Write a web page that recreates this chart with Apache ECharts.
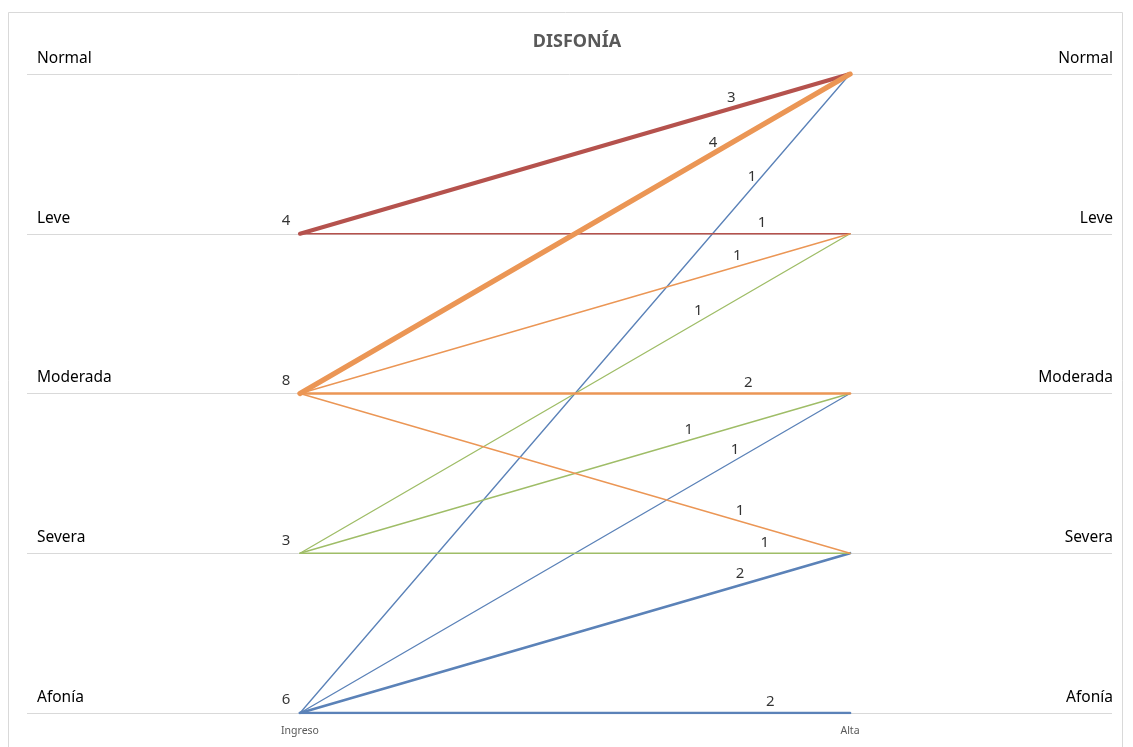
<!DOCTYPE html>
<html>
<head>
<meta charset="utf-8">
<title>Disfonía</title>
<script src="https://cdn.jsdelivr.net/npm/echarts@6/dist/echarts.min.js"></script>
<style>
  html, body { margin: 0; padding: 0; background: #fff; }
  #chart { width: 1133px; height: 747px; }
</style>
</head>
<body>
<div id="chart"></div>
<script>
// Severity levels, bottom (0) to top (4)
const niveles = ['Afonía', 'Severa', 'Moderada', 'Leve', 'Normal'];
const momentos = ['Ingreso', 'Alta'];

// One entry per transition: level at admission, level at discharge, patients
const ingreso = ['Leve', 'Leve', 'Moderada', 'Moderada', 'Moderada', 'Moderada', 'Severa', 'Severa', 'Severa', 'Afonía', 'Afonía', 'Afonía', 'Afonía'];
const alta    = ['Normal', 'Leve', 'Normal', 'Leve', 'Moderada', 'Severa', 'Leve', 'Moderada', 'Severa', 'Normal', 'Moderada', 'Severa', 'Afonía'];
const pacientes = [3, 1, 4, 1, 2, 1, 1, 1, 1, 1, 1, 2, 2];

// Where along each line (0 = Ingreso, 1 = Alta) its count is written
const posEtiqueta = [0.784, 0.84, 0.751, 0.795, 0.815, 0.80, 0.724, 0.707, 0.845, 0.822, 0.791, 0.80, 0.855];

const colores = {
  'Leve': '#b5524d',
  'Moderada': '#eb9655',
  'Severa': '#9fbd67',
  'Afonía': '#5b82b8'
};
const ordenDibujo = ['Afonía', 'Severa', 'Leve', 'Moderada'];
const fuente = '"Noto Sans", "Open Sans", sans-serif';

const lvl = name => niveles.indexOf(name);

const series = [];
ordenDibujo.forEach(grupo => {
  ingreso.forEach((desde, i) => {
    if (desde !== grupo) return;
    series.push({
      type: 'line',
      name: desde + ' → ' + alta[i],
      data: [[0, lvl(desde)], [1, lvl(alta[i])]],
      symbol: 'none',
      silent: true,
      z: 3,
      lineStyle: { color: colores[desde], width: 1.35 * pacientes[i], cap: 'round' }
    });
  });
});

// Count labels along each transition
series.push({
  type: 'scatter',
  symbolSize: 1,
  itemStyle: { color: 'transparent' },
  silent: true,
  z: 5,
  data: ingreso.map((desde, i) => {
    const t = posEtiqueta[i];
    const y0 = lvl(desde), y1 = lvl(alta[i]);
    return { value: [t, y0 + (y1 - y0) * t], n: pacientes[i] };
  }),
  label: {
    show: true,
    position: 'top',
    distance: 3,
    formatter: p => String(p.data.n),
    color: '#000',
    fontSize: 15,
    fontFamily: fuente
  }
});

// Totals at admission for each level
const totales = niveles.map(n => ingreso.reduce((s, d, i) => s + (d === n ? pacientes[i] : 0), 0));
series.push({
  type: 'scatter',
  symbolSize: 1,
  itemStyle: { color: 'transparent' },
  silent: true,
  z: 5,
  data: niveles.map((n, k) => ({ value: [0, k], n: totales[k] })).filter(d => d.n > 0),
  label: {
    show: true,
    position: 'top',
    distance: 5,
    offset: [-14, 0],
    formatter: p => String(p.data.n),
    color: '#000',
    fontSize: 15,
    fontFamily: fuente
  }
});

const chart = echarts.init(document.getElementById('chart'), null, { renderer: 'canvas' });

const yLabelBase = {
  inside: true,
  fontSize: 15.5,
  fontFamily: fuente,
  color: '#000',
  verticalAlign: 'bottom',
  lineHeight: 17,
  padding: [0, 0, 7, 0],
  showMinLabel: true,
  showMaxLabel: true,
  formatter: v => niveles[v] || ''
};

chart.setOption({
  animation: false,
  backgroundColor: '#fff',
  title: {
    text: 'DISFONÍA',
    left: 572,
    top: 28,
    textAlign: 'center',
    textStyle: { fontFamily: fuente, fontWeight: 'bold', fontSize: 18, color: '#595959' }
  },
  graphic: [{
    type: 'rect',
    shape: { x: 8.5, y: 12.5, width: 1114, height: 760 },
    style: { fill: 'none', stroke: '#d9d9d9', lineWidth: 1 },
    silent: true,
    z: -10
  }],
  grid: { left: 27, right: 21, top: 74, bottom: 34, containLabel: false },
  xAxis: {
    type: 'value',
    min: -273 / 550,
    max: -273 / 550 + 1085 / 550,
    axisLine: { show: false },
    axisTick: { show: false },
    splitLine: { show: false },
    axisLabel: {
      customValues: [0, 1],
      formatter: v => momentos[Math.round(v)] || '',
      fontSize: 10.5,
      fontFamily: fuente,
      color: '#595959',
      margin: 13
    }
  },
  yAxis: [{
    type: 'value',
    position: 'left',
    min: 0,
    max: 4,
    interval: 1,
    axisLine: { show: false },
    axisTick: { show: false },
    splitLine: { show: true, lineStyle: { color: '#d9d9d9', width: 1 } },
    axisLabel: Object.assign({}, yLabelBase, { align: 'left', margin: 10 })
  }, {
    type: 'value',
    position: 'right',
    min: 0,
    max: 4,
    interval: 1,
    axisLine: { show: false },
    axisTick: { show: false },
    splitLine: { show: false },
    axisLabel: Object.assign({}, yLabelBase, { align: 'right', margin: -1 })
  }],
  series: series
});
</script>
</body>
</html>
